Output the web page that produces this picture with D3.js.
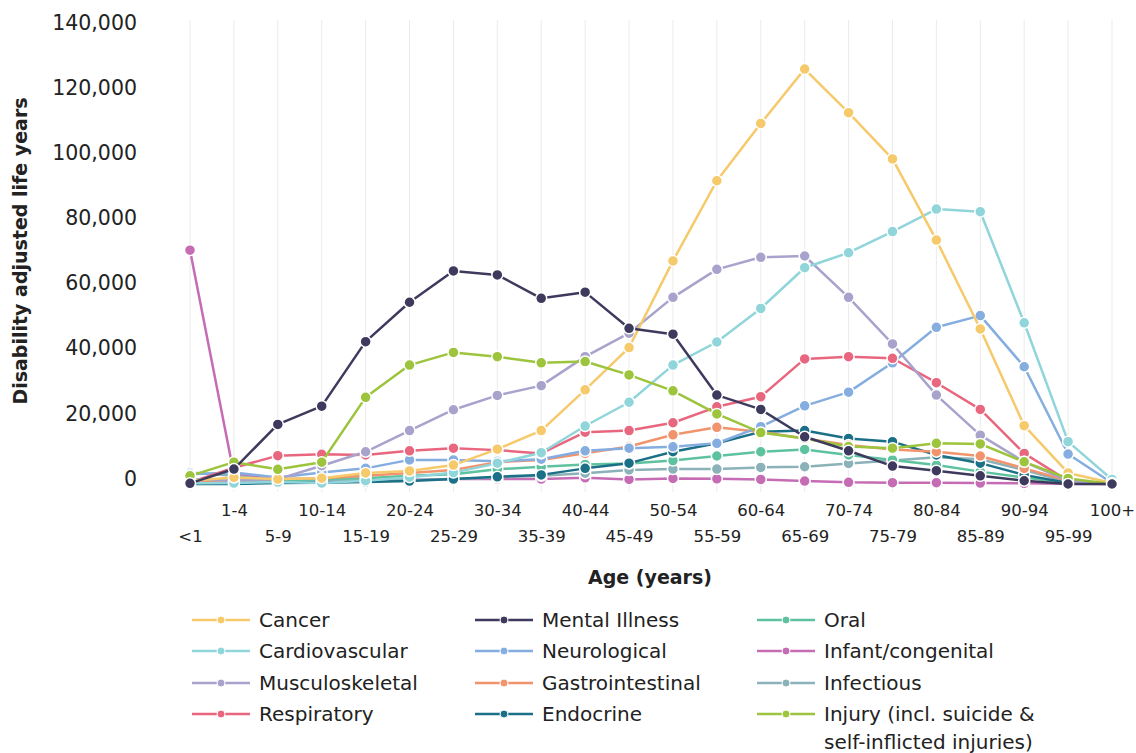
<!DOCTYPE html>
<html>
<head>
<meta charset="utf-8">
<script src="https://cdn.jsdelivr.net/npm/d3@7"></script>
<style>
  body { margin: 0; background: #fff; }
  svg text { font-family: "DejaVu Sans", sans-serif; fill: #222; }
</style>
</head>
<body>
<svg id="chart"></svg>
<script>
// age groups along the x axis
const ages = ["<1", "1-4", "5-9", "10-14", "15-19", "20-24", "25-29", "30-34", "35-39", "40-44",
  "45-49", "50-54", "55-59", "60-64", "65-69", "70-74", "75-79", "80-84", "85-89", "90-94", "95-99", "100+"]

const yTicks = [0, 20000, 40000, 60000, 80000, 100000, 120000, 140000]

// DALYs by disease group
const cancer = [1000, 2000, 1500, 1800, 3400, 4000, 5800, 10700, 16400, 28900, 41900, 68500, 93100, 110700, 127400, 114000, 99800, 74900, 47600, 17900, 3400, 300]
const cardiovascular = [200, 300, 600, 300, 1000, 2100, 3500, 6400, 9600, 17800, 25100, 36500, 43600, 53900, 66400, 71000, 77500, 84400, 83600, 49500, 13000, 1400]
const musculoskeletal = [1500, 1000, 1500, 5600, 9900, 16400, 22800, 27200, 30200, 39100, 46300, 57300, 65900, 69600, 70000, 57300, 43000, 27300, 15000, 6800, 1000, 0]
const respiratory = [500, 5000, 8700, 9100, 8900, 10200, 11000, 10400, 9400, 15900, 16400, 18800, 23700, 26800, 38400, 39100, 38600, 31100, 22900, 9400, 1000, 0]
const mental = [200, 4600, 18300, 23900, 43700, 55800, 65400, 64200, 57000, 58900, 47800, 46000, 27300, 22900, 14500, 10200, 5500, 4100, 2500, 1000, 0, 0]
const neurological = [3000, 3500, 2000, 3500, 4800, 7400, 7400, 7000, 7600, 10200, 11000, 11400, 12500, 17600, 24000, 28200, 37200, 48100, 51700, 36000, 9200, 300]
const gastro = [300, 1000, 1500, 1800, 2500, 3400, 4300, 6700, 7400, 9400, 11500, 15100, 17400, 16000, 14000, 12000, 10600, 9900, 8600, 4800, 1000, 0]
const endocrine = [0, 0, 300, 400, 600, 900, 1500, 2200, 2800, 4800, 6400, 9900, 12500, 16000, 16400, 14000, 13000, 8900, 6400, 2800, 300, 0]
const oral = [0, 500, 1000, 1500, 1800, 2500, 3000, 4500, 5300, 6000, 6300, 7200, 8600, 9900, 10600, 8900, 7400, 5800, 3800, 2000, 300, 0]
const infant = [71800, 3000, 1500, 1000, 1000, 1200, 1500, 1500, 1500, 1900, 1400, 1700, 1600, 1400, 900, 500, 400, 400, 300, 200, 100, 0]
const infectious = [3500, 2500, 1000, 800, 1000, 1200, 1500, 2000, 2500, 3300, 4300, 4600, 4600, 5100, 5300, 6300, 7200, 8200, 7600, 4300, 600, 0]
const injury = [2500, 6700, 4500, 6700, 26600, 36500, 40400, 39100, 37200, 37600, 33500, 28600, 21500, 15800, 14000, 11500, 11000, 12500, 12300, 6800, 1700, 0]

const series = [
  { name: "Cancer", values: cancer, color: "#f6c96b" },
  { name: "Cardiovascular", values: cardiovascular, color: "#90d5da" },
  { name: "Musculoskeletal", values: musculoskeletal, color: "#a8a3cc" },
  { name: "Respiratory", values: respiratory, color: "#e9667f" },
  { name: "Mental Illness", values: mental, color: "#3e3a5e" },
  { name: "Neurological", values: neurological, color: "#85ade0" },
  { name: "Gastrointestinal", values: gastro, color: "#f1946e" },
  { name: "Endocrine", values: endocrine, color: "#1b6f86" },
  { name: "Oral", values: oral, color: "#5ec29f" },
  { name: "Infant/congenital", values: infant, color: "#c56cb4" },
  { name: "Infectious", values: infectious, color: "#8bb1b9" },
  { name: ["Injury (incl. suicide &", "self-inflicted injuries)"], values: injury, color: "#9cc43c" }
]

const width = 1136, height = 753

const svg = d3.select("#chart")
  .attr("width", width)
  .attr("height", height)

const x = d3.scalePoint()
  .domain(ages)
  .range([190, 1112])

const y = d3.scaleLinear()
  .domain([0, 140000])
  .range([484, 28])

// vertical gridlines
svg.append("g")
  .selectAll("line")
  .data(ages)
  .join("line")
    .attr("x1", d => x(d))
    .attr("x2", d => x(d))
    .attr("y1", 20)
    .attr("y2", 492)
    .attr("stroke", "#ebebeb")
    .attr("stroke-width", 1)

// y axis (labels only, sitting a little above the value line)
const yAxis = svg.append("g")
  .attr("transform", "translate(137,0)")
  .call(d3.axisLeft(y).tickValues(yTicks).tickSize(0).tickPadding(0).tickFormat(d3.format(",")))
yAxis.select(".domain").remove()
yAxis.selectAll("text")
  .attr("font-size", 20.5)
  .attr("y", -6)
  .attr("dy", "0.35em")
  .style("font-family", "DejaVu Sans, sans-serif")
  .attr("fill", "#222")

// x axis labels, staggered in two rows
const xAxis = svg.append("g")
  .attr("transform", "translate(0,500)")
  .call(d3.axisBottom(x).tickSize(0).tickPadding(0))
xAxis.select(".domain").remove()
xAxis.selectAll("text")
  .attr("font-size", 16.5)
  .attr("y", (d, i) => i % 2 === 1 ? 4 : 30)
  .attr("dy", "0.71em")
  .style("font-family", "DejaVu Sans, sans-serif")
  .attr("fill", "#222")

svg.append("text")
  .attr("x", 650)
  .attr("y", 584)
  .attr("text-anchor", "middle")
  .attr("font-size", 19)
  .attr("font-weight", "bold")
  .text("Age (years)")

svg.append("text")
  .attr("transform", "translate(27,251) rotate(-90)")
  .attr("text-anchor", "middle")
  .attr("font-size", 19)
  .attr("font-weight", "bold")
  .text("Disability adjusted life years")

const line = d3.line()
  .x((d, i) => x(ages[i]))
  .y(d => y(d))

// draw so that Mental Illness ends on top, as in the picture
const drawOrder = [9, 10, 8, 7, 6, 5, 3, 2, 1, 0, 11, 4].map(i => series[i])

const g = svg.append("g")
drawOrder.forEach(s => {
  g.append("path")
    .datum(s.values)
    .attr("fill", "none")
    .attr("stroke", s.color)
    .attr("stroke-width", 2.5)
    .attr("stroke-linejoin", "round")
    .attr("d", line)
  g.append("g")
    .selectAll("circle")
    .data(s.values)
    .join("circle")
      .attr("cx", (d, i) => x(ages[i]))
      .attr("cy", d => y(d))
      .attr("r", 5.5)
      .attr("fill", s.color)
      .attr("stroke", "#fff")
      .attr("stroke-width", 1.5)
})

// legend, three columns of four
const colX = [192, 475, 757]
const rowY = [620, 651, 683, 714]
const legend = svg.append("g")
series.forEach((s, i) => {
  const cx = colX[Math.floor(i / 4)], cy = rowY[i % 4]
  const item = legend.append("g").attr("transform", `translate(${cx},${cy})`)
  item.append("line")
    .attr("x1", 0).attr("x2", 58)
    .attr("stroke", s.color)
    .attr("stroke-width", 2.5)
  item.append("circle")
    .attr("cx", 29)
    .attr("r", 4)
    .attr("fill", s.color)
    .attr("stroke", "#fff")
    .attr("stroke-width", 1)
  const label = item.append("text")
    .attr("font-size", 20)
  const lines = Array.isArray(s.name) ? s.name : [s.name]
  lines.forEach((t, k) => {
    label.append("tspan")
      .attr("x", 67)
      .attr("y", k * 28)
      .attr("dy", "0.35em")
      .text(t)
  })
})
</script>
</body>
</html>
